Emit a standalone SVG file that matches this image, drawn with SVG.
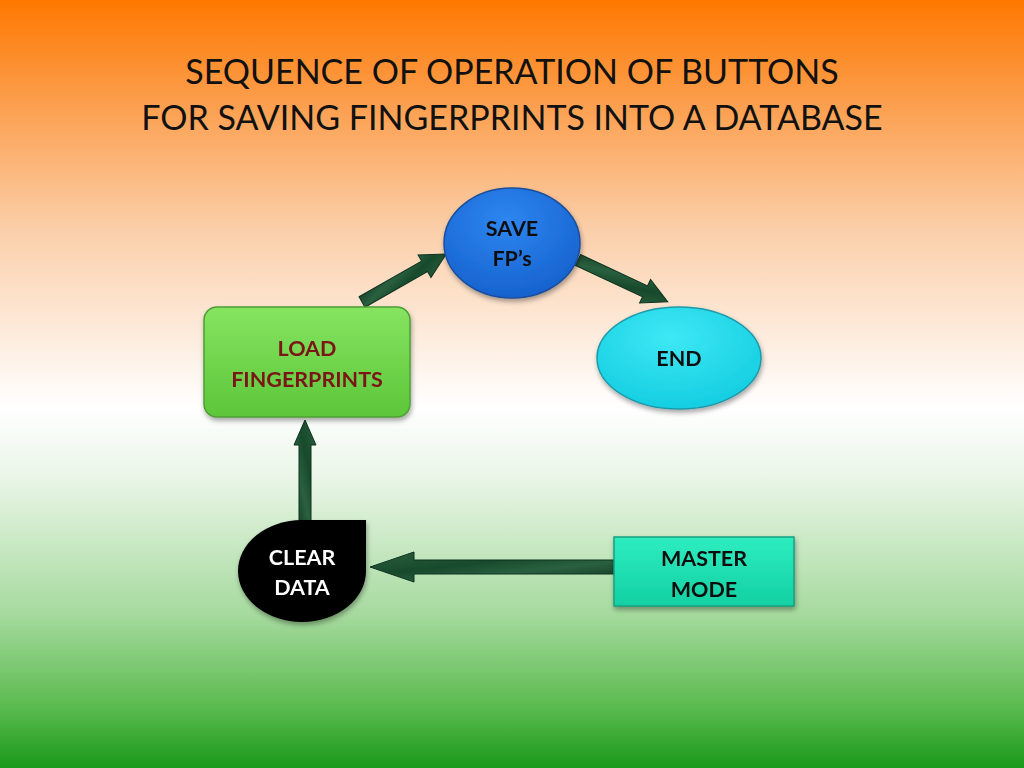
<svg xmlns="http://www.w3.org/2000/svg" width="1024" height="768" viewBox="0 0 1024 768">
<defs>
<linearGradient id="bg" x1="0" y1="0" x2="0" y2="1">
<stop offset="0" stop-color="#FF7800"/>
<stop offset="0.12" stop-color="#FC9A45"/>
<stop offset="0.3" stop-color="#FBCFAA"/>
<stop offset="0.53" stop-color="#FFFFFF"/>
<stop offset="0.62" stop-color="#EAF6E8"/>
<stop offset="0.8" stop-color="#A6DA9E"/>
<stop offset="0.92" stop-color="#5BBB4F"/>
<stop offset="1" stop-color="#1A991A"/>
</linearGradient>
<radialGradient id="gSave" cx="0.45" cy="0.3" r="0.75">
<stop offset="0" stop-color="#2E86F0"/>
<stop offset="1" stop-color="#1560CC"/>
</radialGradient>
<radialGradient id="gEnd" cx="0.45" cy="0.3" r="0.75">
<stop offset="0" stop-color="#3EE8F4"/>
<stop offset="1" stop-color="#12CCE0"/>
</radialGradient>
<linearGradient id="gLoad" x1="0" y1="0" x2="0" y2="1">
<stop offset="0" stop-color="#86E460"/>
<stop offset="1" stop-color="#5CC63A"/>
</linearGradient>
<linearGradient id="gMaster" x1="0" y1="0" x2="0" y2="1">
<stop offset="0" stop-color="#2EEDC0"/>
<stop offset="1" stop-color="#12D0A2"/>
</linearGradient>
<linearGradient id="gArrow" x1="0" y1="0" x2="1" y2="1">
<stop offset="0" stop-color="#123A22"/>
<stop offset="0.35" stop-color="#2A6040"/>
<stop offset="0.6" stop-color="#174A2C"/>
<stop offset="1" stop-color="#2C5E3E"/>
</linearGradient>
<filter id="sh" x="-20%" y="-20%" width="140%" height="150%">
<feDropShadow dx="1" dy="3" stdDeviation="2.5" flood-color="#000" flood-opacity="0.35"/>
</filter>
</defs>
<style>
.title{font-family:Lato,"Open Sans","Liberation Sans",sans-serif;font-size:34px;fill:#111;text-anchor:middle}
.lbl{font-family:Lato,"Open Sans","Liberation Sans",sans-serif;font-size:21.5px;font-weight:bold;text-anchor:middle}
.arrow{fill:url(#gArrow);stroke:#0F3320;stroke-width:1}
</style>
<rect width="1024" height="768" fill="url(#bg)"/>
<text class="title" x="512" y="84">SEQUENCE OF OPERATION OF BUTTONS</text>
<text class="title" x="512" y="130">FOR SAVING FINGERPRINTS INTO A DATABASE</text>

<g id="connectors">
<polygon class="arrow" transform="translate(362,302) rotate(-29.7)" points="0,-6 72,-6 72,-13 97,0 72,13 72,6 0,6"/>
<polygon class="arrow" transform="translate(578,260) rotate(25)" points="0,-6 74,-6 74,-13 99,0 74,13 74,6 0,6"/>
<polygon class="arrow" transform="translate(305,522) rotate(-90)" points="0,-6 77,-6 77,-11 102,0 77,11 77,6 0,6"/>
<polygon class="arrow" transform="translate(614,567) rotate(180)" points="0,-7 200,-7 200,-15 244,0 200,15 200,7 0,7"/>
</g>

<g id="save" filter="url(#sh)">
<ellipse cx="512" cy="243" rx="68" ry="55" fill="url(#gSave)" stroke="#1A4E9E" stroke-width="1.5"/>
<text class="lbl" x="512" y="236" fill="#111">SAVE</text>
<text class="lbl" x="512" y="266" fill="#111">FP’s</text>
</g>

<g id="end" filter="url(#sh)">
<ellipse cx="679" cy="358" rx="82" ry="51" fill="url(#gEnd)" stroke="#1E9AAA" stroke-width="1.5"/>
<text class="lbl" x="679" y="366" fill="#111">END</text>
</g>

<g id="load" filter="url(#sh)">
<rect x="204" y="307" width="206" height="110" rx="13" fill="url(#gLoad)" stroke="#4E9E36" stroke-width="1.5"/>
<text class="lbl" x="307" y="356" fill="#7A1414">LOAD</text>
<text class="lbl" x="307" y="387" fill="#7A1414">FINGERPRINTS</text>
</g>

<g id="clear" filter="url(#sh)">
<path d="M302,520 L366,520 L366,571 A64,51 0 0 1 302,622 A64,51 0 0 1 238,571 A64,51 0 0 1 302,520 Z" fill="#000"/>
<text class="lbl" x="302" y="565" fill="#fff">CLEAR</text>
<text class="lbl" x="302" y="595" fill="#fff">DATA</text>
</g>

<g id="master" filter="url(#sh)">
<rect x="614" y="537" width="180" height="69" fill="url(#gMaster)" stroke="#14A080" stroke-width="1.5"/>
<text class="lbl" x="704" y="566" fill="#111">MASTER</text>
<text class="lbl" x="704" y="597" fill="#111">MODE</text>
</g>
</svg>
